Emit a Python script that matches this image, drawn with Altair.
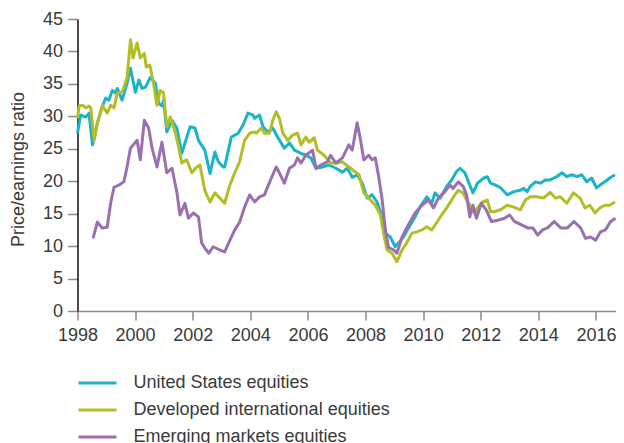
import altair as alt
import pandas as pd

us_years = [1998.0, 1998.11, 1998.29, 1998.40, 1998.52, 1998.69, 1998.86, 1998.98, 1999.09, 1999.21,
            1999.32, 1999.38, 1999.55, 1999.72, 1999.84, 2000.01, 2000.13, 2000.24, 2000.36, 2000.53,
            2000.70, 2000.82, 2000.93, 2000.99, 2001.10, 2001.28, 2001.45, 2001.62, 2001.91, 2002.08,
            2002.20, 2002.42, 2002.60, 2002.77, 2002.89, 2003.06, 2003.11, 2003.34, 2003.58, 2003.75,
            2003.92, 2004.09, 2004.15, 2004.32, 2004.44, 2004.61, 2004.78, 2004.96, 2005.18, 2005.36,
            2005.53, 2005.76, 2005.93, 2006.10, 2006.28, 2006.51, 2006.73, 2006.97, 2007.20, 2007.37,
            2007.54, 2007.71, 2007.89, 2008.06, 2008.23, 2008.40, 2008.58, 2008.69, 2008.86, 2009.03,
            2009.15, 2009.32, 2009.49, 2009.72, 2009.90, 2010.13, 2010.30, 2010.41, 2010.59, 2010.82,
            2010.99, 2011.16, 2011.28, 2011.45, 2011.62, 2011.73, 2011.89, 2012.11, 2012.23, 2012.34,
            2012.52, 2012.69, 2012.92, 2013.15, 2013.38, 2013.49, 2013.61, 2013.72, 2013.90, 2014.07,
            2014.24, 2014.41, 2014.64, 2014.82, 2014.99, 2015.16, 2015.34, 2015.51, 2015.68, 2015.85,
            2016.02, 2016.14, 2016.31, 2016.48, 2016.66]
us_values = [27.4, 30.2, 29.9, 30.5, 25.6, 29.0, 31.5, 32.8, 32.5, 34.0,
             33.6, 34.3, 32.5, 35.1, 37.4, 33.7, 35.6, 34.3, 34.5, 36.0,
             35.1, 32.0, 31.6, 32.5, 27.6, 29.4, 28.2, 24.3, 28.4, 28.2,
             26.3, 24.8, 21.2, 24.5, 23.0, 22.2, 22.2, 26.8, 27.4, 28.7,
             30.5, 30.2, 29.7, 30.2, 28.4, 27.6, 28.2, 26.7, 25.1, 25.9,
             24.8, 24.3, 24.0, 23.6, 22.0, 22.2, 22.5, 22.0, 21.4, 22.0,
             20.6, 21.0, 19.7, 17.4, 17.9, 16.8, 14.5, 12.0, 11.4, 9.9,
             10.5, 11.4, 12.8, 14.5, 16.1, 17.6, 16.6, 18.2, 17.4, 19.2,
             20.2, 21.5, 22.0, 21.3, 19.4, 18.2, 19.7, 20.5, 20.7, 19.7,
             19.4, 19.0, 17.9, 18.4, 18.6, 18.9, 18.4, 19.2, 19.9, 19.7,
             20.2, 20.2, 20.7, 21.3, 20.7, 21.0, 20.7, 21.0, 19.9, 20.5,
             19.0, 19.4, 19.9, 20.5, 21.0]

dev_years = [1998.0, 1998.06, 1998.17, 1998.29, 1998.40, 1998.46, 1998.58, 1998.69, 1998.86, 1999.03,
             1999.15, 1999.27, 1999.38, 1999.55, 1999.72, 1999.84, 1999.93, 2000.07, 2000.18, 2000.32,
             2000.39, 2000.51, 2000.64, 2000.76, 2000.87, 2000.99, 2001.10, 2001.22, 2001.39, 2001.51,
             2001.62, 2001.79, 2001.97, 2002.14, 2002.25, 2002.42, 2002.60, 2002.77, 2002.94, 2003.11,
             2003.29, 2003.46, 2003.63, 2003.80, 2003.98, 2004.15, 2004.21, 2004.38, 2004.49, 2004.67,
             2004.78, 2004.90, 2005.01, 2005.13, 2005.30, 2005.47, 2005.64, 2005.76, 2005.93, 2006.04,
             2006.22, 2006.33, 2006.56, 2006.79, 2007.02, 2007.19, 2007.42, 2007.66, 2007.77, 2007.94,
             2008.11, 2008.34, 2008.52, 2008.63, 2008.75, 2008.92, 2009.09, 2009.27, 2009.44, 2009.61,
             2009.78, 2009.96, 2010.13, 2010.30, 2010.47, 2010.64, 2010.82, 2010.99, 2011.10, 2011.22,
             2011.39, 2011.51, 2011.68, 2011.77, 2011.89, 2012.06, 2012.23, 2012.34, 2012.46, 2012.69,
             2012.92, 2013.15, 2013.38, 2013.55, 2013.72, 2013.96, 2014.18, 2014.41, 2014.59, 2014.76,
             2014.99, 2015.22, 2015.45, 2015.62, 2015.79, 2015.97, 2016.14, 2016.31, 2016.48, 2016.66]
dev_values = [29.7, 31.6, 31.7, 31.3, 31.6, 31.3, 26.3, 29.0, 31.7, 30.5,
              31.7, 31.3, 33.6, 33.7, 35.9, 41.8, 39.0, 41.3, 39.0, 39.7,
              37.6, 37.9, 35.1, 31.7, 34.0, 33.6, 28.4, 29.9, 27.6, 25.3,
              22.8, 23.3, 21.3, 22.2, 22.5, 18.6, 16.8, 18.2, 17.4, 16.6,
              19.4, 21.3, 23.0, 26.3, 27.4, 27.6, 27.4, 28.2, 27.4, 27.4,
              29.4, 30.7, 29.7, 27.4, 26.3, 27.1, 27.4, 25.6, 26.8, 26.0,
              26.7, 24.8, 24.0, 22.8, 22.8, 23.0, 22.2, 21.4, 21.0, 18.2,
              17.4, 16.3, 14.8, 12.0, 9.4, 8.9, 7.6, 9.4, 10.6, 12.0,
              12.2, 12.5, 13.0, 12.5, 13.6, 14.8, 15.9, 17.1, 17.9, 18.6,
              18.2, 17.1, 15.9, 15.1, 15.9, 16.8, 17.1, 15.3, 15.3, 15.6,
              16.3, 16.0, 15.6, 17.1, 17.6, 17.6, 17.4, 18.3, 17.4, 17.6,
              16.6, 18.2, 17.4, 15.9, 16.3, 15.1, 15.9, 16.3, 16.3, 16.8]

em_years = [1998.54, 1998.69, 1998.86, 1999.03, 1999.15, 1999.27, 1999.44, 1999.61, 1999.72, 1999.84,
            2000.07, 2000.18, 2000.32, 2000.47, 2000.59, 2000.76, 2000.93, 2001.10, 2001.28, 2001.45,
            2001.56, 2001.73, 2001.85, 2002.02, 2002.20, 2002.31, 2002.42, 2002.56, 2002.71, 2002.94,
            2003.11, 2003.29, 2003.46, 2003.63, 2003.80, 2003.98, 2004.15, 2004.32, 2004.49, 2004.61,
            2004.78, 2004.90, 2005.01, 2005.18, 2005.36, 2005.53, 2005.64, 2005.76, 2005.93, 2006.16,
            2006.28, 2006.45, 2006.68, 2006.79, 2006.97, 2007.20, 2007.42, 2007.54, 2007.71, 2007.83,
            2007.94, 2008.11, 2008.23, 2008.34, 2008.46, 2008.58, 2008.69, 2008.80, 2008.98, 2009.09,
            2009.27, 2009.49, 2009.72, 2009.96, 2010.18, 2010.36, 2010.53, 2010.76, 2010.93, 2011.04,
            2011.22, 2011.39, 2011.51, 2011.62, 2011.73, 2011.85, 2012.02, 2012.19, 2012.37, 2012.60,
            2012.83, 2013.00, 2013.17, 2013.40, 2013.63, 2013.81, 2013.98, 2014.15, 2014.32, 2014.55,
            2014.78, 2015.01, 2015.24, 2015.47, 2015.64, 2015.82, 2015.99, 2016.16, 2016.33, 2016.51,
            2016.68]
em_values = [11.2, 13.7, 12.8, 12.9, 16.6, 19.1, 19.4, 19.9, 22.2, 25.1,
             26.3, 23.3, 29.4, 28.2, 25.1, 22.2, 26.0, 21.3, 22.0, 18.3,
             14.8, 16.6, 14.3, 15.1, 14.5, 10.5, 9.7, 8.9, 9.9, 9.4,
             9.1, 10.9, 12.5, 13.7, 16.0, 17.9, 16.8, 17.6, 17.9, 19.2,
             21.0, 22.2, 21.3, 19.7, 22.0, 22.5, 23.6, 22.8, 24.0, 24.8,
             22.0, 22.5, 23.0, 24.0, 22.8, 23.6, 25.6, 24.8, 29.0, 26.3,
             23.3, 24.0, 23.3, 23.6, 20.6, 17.1, 12.5, 9.8, 9.4, 8.9,
             11.4, 13.3, 15.1, 16.3, 17.1, 15.9, 17.4, 18.4, 19.4, 18.9,
             19.9, 19.2, 17.9, 14.5, 16.3, 14.3, 16.6, 15.6, 13.8, 14.0,
             14.3, 14.8, 13.8, 13.3, 12.8, 12.8, 11.7, 12.5, 12.8, 13.8,
             12.8, 12.8, 13.8, 12.8, 11.2, 11.4, 10.9, 12.2, 12.5, 13.8,
             14.3]

series_names = ["United States equities", "Developed international equities", "Emerging markets equities"]
series_colors = ["#1ab4c6", "#b3bd25", "#9a70b0"]
x_ticks = list(range(1998, 2017, 2))
y_ticks = list(range(0, 46, 5))

frames = []
for name, yrs, vals in zip(series_names, [us_years, dev_years, em_years], [us_values, dev_values, em_values]):
    frames.append(pd.DataFrame({"year": yrs, "pe": vals, "series": name}))
df = pd.concat(frames, ignore_index=True)

FONT = "Liberation Sans"
TXT = "#3a3a3a"

chart = alt.Chart(df).mark_line(strokeWidth=3, strokeJoin="round", clip=False).encode(
    x=alt.X("year:Q",
            scale=alt.Scale(domain=[1998, 2016.68], nice=False, zero=False),
            axis=alt.Axis(values=x_ticks, format="d", title=None, grid=False,
                          domainColor="#8a8a8a", domainWidth=1.5,
                          tickColor="#8a8a8a", tickWidth=1.5, tickSize=9,
                          labelFont=FONT, labelFontSize=18, labelColor=TXT,
                          labelPadding=6, labelFlush=False)),
    y=alt.Y("pe:Q",
            scale=alt.Scale(domain=[0, 45], nice=False),
            axis=alt.Axis(values=y_ticks, title="Price/earnings ratio", grid=False,
                          domainColor="#111111", domainWidth=1.5,
                          tickColor="#8a8a8a", tickWidth=1.5, tickSize=10,
                          labelFont=FONT, labelFontSize=18, labelColor=TXT,
                          labelPadding=5, labelFlush=False,
                          titleFont=FONT, titleFontSize=18, titleFontWeight="normal",
                          titleColor=TXT, titleX=-59, titleY=150,
                          titleAlign="center", titleBaseline="middle", titleAngle=270)),
    color=alt.Color("series:N",
                    scale=alt.Scale(domain=series_names, range=series_colors),
                    sort=series_names,
                    legend=alt.Legend(title=None, orient="none", legendX=9, legendY=353,
                                      direction="vertical",
                                      symbolType="M-2,0H2", symbolSize=361,
                                      symbolStrokeWidth=3, labelOffset=25,
                                      rowPadding=7, padding=0,
                                      labelFont=FONT, labelFontSize=18, labelColor=TXT,
                                      labelLimit=400)),
).properties(
    width=538,
    height=292,
    autosize=alt.AutoSizeParams(type="none"),
    padding={"left": 69.5, "top": 11, "right": 0, "bottom": 140},
).configure_view(stroke=None)

chart.save("out.html", embed_options={"renderer": "svg", "actions": False})
